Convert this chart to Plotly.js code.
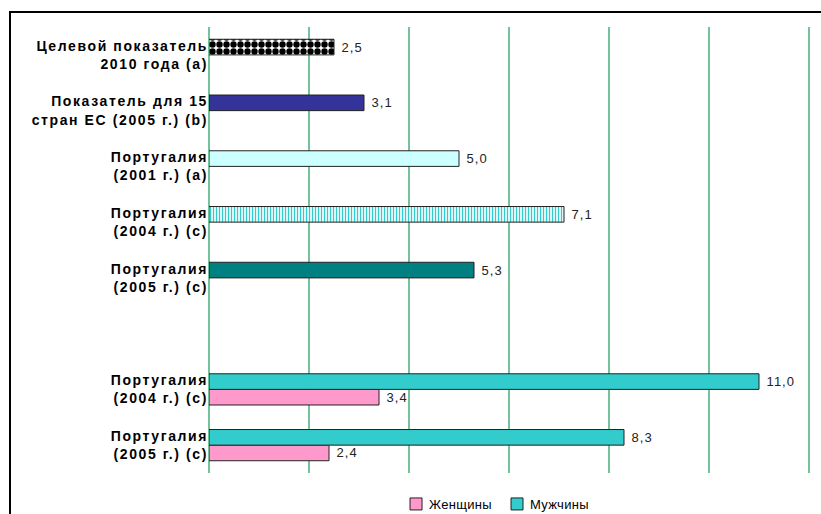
<!DOCTYPE html>
<html>
<head>
<meta charset="utf-8">
<script src="https://cdn.plot.ly/plotly-3.0.1.min.js"></script>
<style>
html,body{margin:0;padding:0;background:#fff;overflow:hidden;}
#frame{position:absolute;left:9px;top:11px;width:900px;height:600px;border-left:2px solid #000;border-top:2px solid #000;}
#chart{position:absolute;left:0;top:0;width:821px;height:514px;}
.ytick text{letter-spacing:1.6px;}
.bartext{letter-spacing:1px;}
.legendtext{letter-spacing:0.3px;transform:translateX(-7px);}
</style>
</head>
<body>
<div id="frame"></div>
<div id="chart"></div>
<script>
const categories = [
  "Целевой показатель<br>2010 года (a)",
  "Показатель для 15<br>стран ЕС (2005 г.) (b)",
  "Португалия<br>(2001 г.) (a)",
  "Португалия<br>(2004 г.) (c)",
  "Португалия<br>(2005 г.) (c)",
  "",
  "Португалия<br>(2004 г.) (c)",
  "Португалия<br>(2005 г.) (c)"
];
const totals = [2.5, 3.1, 5.0, 7.1, 5.3, null, null, null];
const women  = [null, null, null, null, null, null, 3.4, 2.4];
const men    = [null, null, null, null, null, null, 11.0, 8.3];
const seriesNames = ["Женщины", "Мужчины"];

// styles for the single bars (one per category with a value in `totals`)
const totalStyles = [
  {fill: "#ffffff", shape: ".", fg: "#000000", size: 7, solidity: 0.65},
  {fill: "#333399", shape: "",  fg: "#333399", size: 8, solidity: 0.5},
  {fill: "#ccffff", shape: "",  fg: "#ccffff", size: 8, solidity: 0.5},
  {fill: "#ffffff", shape: "|", fg: "#33cccc", size: 3, solidity: 0.45},
  {fill: "#008080", shape: "",  fg: "#008080", size: 8, solidity: 0.5}
];

const pos = categories.map((_, i) => i);
const labelFont = {family: "Liberation Sans, Arial, sans-serif", size: 13, color: "#222"};
const valueTemplate = "\u00a0%{x:.1f}";

const traces = [];
totals.forEach((v, i) => {
  if (v === null) return;
  const st = totalStyles[i];
  traces.push({
    type: "bar", orientation: "h", y: pos,
    x: totals.map((w, j) => (j === i ? w : null)),
    width: 0.28, offset: -0.28,
    marker: {
      color: st.fill,
      line: {color: "#222", width: 1},
      pattern: {shape: st.shape, fgcolor: st.fg, bgcolor: st.fill, size: st.size,
                solidity: st.solidity, fillmode: "replace"}
    },
    texttemplate: valueTemplate, textposition: "outside", cliponaxis: false,
    textfont: labelFont, showlegend: false, hoverinfo: "x"
  });
});
traces.push({
  type: "bar", orientation: "h", y: pos, x: women, name: seriesNames[0],
  width: 0.28, offset: 0,
  marker: {color: "#ff99cc", line: {color: "#222", width: 1}},
  texttemplate: valueTemplate, textposition: "outside", cliponaxis: false,
  textfont: labelFont
});
traces.push({
  type: "bar", orientation: "h", y: pos, x: men, name: seriesNames[1],
  width: 0.28, offset: -0.28,
  marker: {color: "#33cccc", line: {color: "#222", width: 1}},
  texttemplate: valueTemplate, textposition: "outside", cliponaxis: false,
  textfont: labelFont
});

const layout = {
  width: 821, height: 514,
  margin: {l: 209, r: 2, t: 27, b: 41, autoexpand: false},
  paper_bgcolor: "rgba(0,0,0,0)", plot_bgcolor: "rgba(0,0,0,0)",
  separators: ", ",
  barmode: "overlay",
  showlegend: true,
  legend: {orientation: "h", x: 0.3066, y: (473 - 504) / 446, xanchor: "left", yanchor: "middle",
           bgcolor: "rgba(0,0,0,0)",
           font: {family: "Liberation Sans, Arial, sans-serif", size: 13, color: "#000"},
           traceorder: "normal", itemwidth: 30, entrywidth: 56, entrywidthmode: "pixels"},
  xaxis: {range: [0, 12.2], tickmode: "linear", tick0: 0, dtick: 2, showgrid: true, gridcolor: "#74c29a", gridwidth: 1.5,
          zeroline: true, zerolinecolor: "#74c29a", zerolinewidth: 1.5,
          showticklabels: false, ticks: "", showline: false, fixedrange: true},
  yaxis: {range: [7.5, -0.5], tickmode: "array", tickvals: pos, ticktext: categories,
          showgrid: false, zeroline: false, showline: false, ticks: "",
          tickfont: {family: "Liberation Sans, Arial, sans-serif", size: 14, color: "#000", weight: "bold"},
          fixedrange: true}
};

Plotly.newPlot("chart", traces, layout, {displayModeBar: false, staticPlot: true});
</script>
</body>
</html>
